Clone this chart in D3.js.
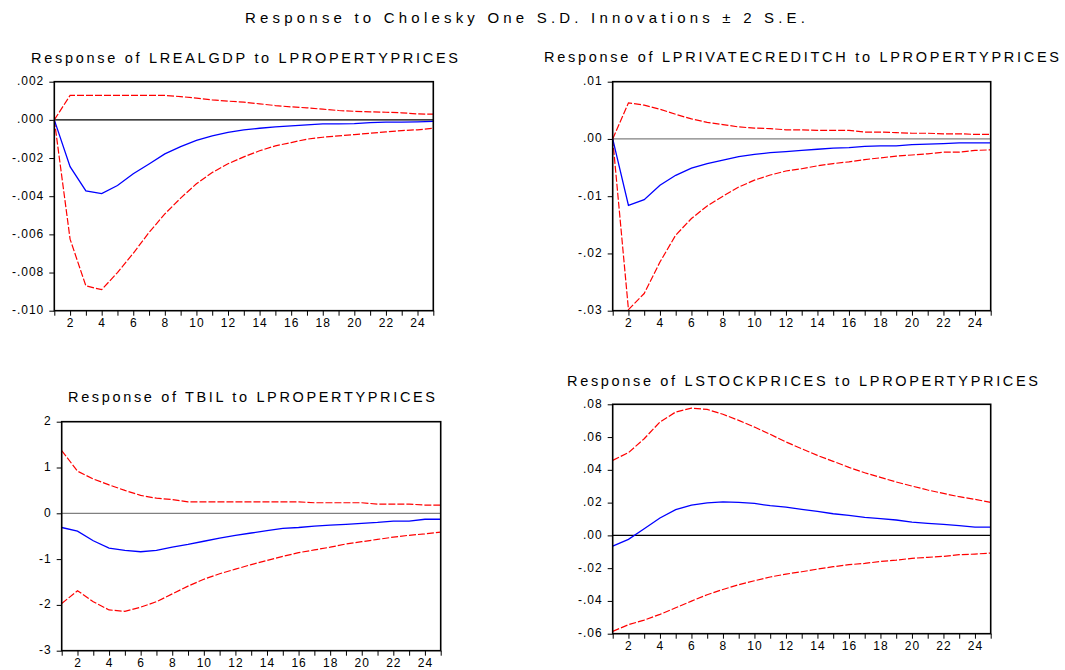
<!DOCTYPE html>
<meta charset="utf-8">
<html>
<head>
<title>Response to Cholesky One S.D. Innovations</title>
<script src="https://d3js.org/d3.v7.min.js"></script>
<style>
    body {
        margin: 0;
        background: #fff;
        font-family: Arial, "Liberation Sans", sans-serif;
    }
    .tick text {
        font-size: 12px;
        letter-spacing: 1px;
        fill: #000;
    }
    .tick line {
        stroke: #000;
    }
</style>
</head>
<body>
<svg id="chart"></svg>
<script>

var width = 1065
var height = 670

// horizon
var periods = [1, 2, 3, 4, 5, 6, 7, 8, 9, 10, 11, 12, 13, 14, 15, 16, 17, 18, 19, 20, 21, 22, 23, 24, 25]

// LREALGDP
var gdpResp  = [0, -0.00245, -0.00372, -0.00386, -0.00344, -0.00282, -0.00231, -0.00178, -0.00140, -0.00108, -0.00084, -0.00065, -0.00052, -0.00044, -0.00037, -0.00031, -0.00026, -0.00021, -0.00021, -0.00020, -0.00014, -0.00012, -0.00012, -0.00010, -0.00008]
var gdpUpper = [0, 0.00128, 0.00128, 0.00128, 0.00128, 0.00128, 0.00128, 0.00128, 0.00122, 0.00114, 0.00105, 0.00098, 0.00093, 0.00084, 0.00075, 0.00068, 0.00063, 0.00056, 0.00049, 0.00045, 0.00042, 0.00040, 0.00037, 0.00031, 0.00030]
var gdpLower = [0, -0.00625, -0.00870, -0.00890, -0.00800, -0.00699, -0.00590, -0.00493, -0.00410, -0.00335, -0.00276, -0.00230, -0.00194, -0.00162, -0.00136, -0.00119, -0.00101, -0.00091, -0.00084, -0.00077, -0.00070, -0.00063, -0.00056, -0.00052, -0.00044]
var gdpTicks = [0.002, 0, -0.002, -0.004, -0.006, -0.008, -0.010]
var gdpLabels = [".002", ".000", "-.002", "-.004", "-.006", "-.008", "-.010"]

// LPRIVATECREDITCH
var creditResp  = [0, -0.0116, -0.0106, -0.0081, -0.00635, -0.0051, -0.0043, -0.0037, -0.0031, -0.0027, -0.0024, -0.0022, -0.0020, -0.0018, -0.0016, -0.0015, -0.0013, -0.0012, -0.0012, -0.0010, -0.0009, -0.0008, -0.0007, -0.0007, -0.0007]
var creditUpper = [0, 0.0063, 0.0059, 0.0052, 0.0043, 0.0035, 0.0029, 0.0025, 0.0021, 0.0019, 0.0018, 0.0016, 0.0016, 0.0015, 0.0015, 0.0015, 0.0012, 0.0012, 0.0011, 0.0010, 0.0010, 0.0009, 0.0009, 0.0008, 0.0008]
var creditLower = [0, -0.0298, -0.0270, -0.0215, -0.0168, -0.0139, -0.0117, -0.0100, -0.0084, -0.0072, -0.0063, -0.0056, -0.0052, -0.0047, -0.0043, -0.0040, -0.0036, -0.0033, -0.0030, -0.0028, -0.0026, -0.0023, -0.0023, -0.0020, -0.0019]
var creditTicks = [0.01, 0, -0.01, -0.02, -0.03]
var creditLabels = [".01", ".00", "-.01", "-.02", "-.03"]

// TBIL
var tbilResp  = [-0.31, -0.39, -0.60, -0.76, -0.81, -0.84, -0.81, -0.74, -0.68, -0.61, -0.54, -0.48, -0.43, -0.38, -0.33, -0.31, -0.28, -0.26, -0.24, -0.22, -0.20, -0.17, -0.17, -0.13, -0.13]
var tbilUpper = [1.37, 0.92, 0.75, 0.62, 0.50, 0.39, 0.33, 0.30, 0.25, 0.25, 0.25, 0.25, 0.25, 0.25, 0.25, 0.25, 0.23, 0.23, 0.23, 0.23, 0.20, 0.20, 0.20, 0.18, 0.18]
var tbilLower = [-1.97, -1.69, -1.93, -2.11, -2.14, -2.05, -1.93, -1.76, -1.59, -1.44, -1.32, -1.22, -1.12, -1.03, -0.94, -0.86, -0.80, -0.74, -0.67, -0.62, -0.57, -0.52, -0.48, -0.45, -0.41]
var tbilTicks = [2, 1, 0, -1, -2, -3]
var tbilLabels = ["2", "1", "0", "-1", "-2", "-3"]

// LSTOCKPRICES
var stockResp  = [-0.0065, -0.0024, 0.0041, 0.0106, 0.0157, 0.0185, 0.0199, 0.0205, 0.0201, 0.0195, 0.0181, 0.0173, 0.0159, 0.0146, 0.0132, 0.0122, 0.0110, 0.0102, 0.0094, 0.0081, 0.0073, 0.0067, 0.0059, 0.0051, 0.0051]
var stockUpper = [0.0458, 0.0505, 0.0590, 0.0692, 0.0753, 0.0777, 0.0769, 0.0739, 0.0702, 0.0661, 0.0617, 0.0570, 0.0529, 0.0488, 0.0452, 0.0415, 0.0382, 0.0354, 0.0326, 0.0301, 0.0277, 0.0256, 0.0236, 0.0220, 0.0201]
var stockLower = [-0.0586, -0.0545, -0.0517, -0.0482, -0.0442, -0.0401, -0.0362, -0.0330, -0.0301, -0.0277, -0.0254, -0.0236, -0.0222, -0.0206, -0.0191, -0.0179, -0.0171, -0.0159, -0.0151, -0.0140, -0.0134, -0.0128, -0.0118, -0.0114, -0.0108]
var stockTicks = [0.08, 0.06, 0.04, 0.02, 0, -0.02, -0.04, -0.06]
var stockLabels = [".08", ".06", ".04", ".02", ".00", "-.02", "-.04", "-.06"]

var mainTitle = "Response to Cholesky One S.D. Innovations \u00b1 2 S.E."

// panel layout
var panels = [
    {title: "Response of LREALGDP to LPROPERTYPRICES", resp: gdpResp, upper: gdpUpper, lower: gdpLower,
     ticks: gdpTicks, labels: gdpLabels,
     box: [54.3, 81.7, 433.3, 310.7], tx: [31, 458], ty: 62.5, zero: "#000"},
    {title: "Response of LPRIVATECREDITCH to LPROPERTYPRICES", resp: creditResp, upper: creditUpper, lower: creditLower,
     ticks: creditTicks, labels: creditLabels,
     box: [612.7, 81.7, 990.7, 310.7], tx: [544, 1059], ty: 62, zero: "#808080"},
    {title: "Response of TBIL to LPROPERTYPRICES", resp: tbilResp, upper: tbilUpper, lower: tbilLower,
     ticks: tbilTicks, labels: tbilLabels,
     box: [61.7, 421.7, 440.7, 650.7], tx: [68, 435], ty: 402, zero: "#808080"},
    {title: "Response of LSTOCKPRICES to LPROPERTYPRICES", resp: stockResp, upper: stockUpper, lower: stockLower,
     ticks: stockTicks, labels: stockLabels,
     box: [612.7, 404.3, 990.7, 633.7], tx: [567, 1038], ty: 385.5, zero: "#000"}
]

var svg = d3.select("#chart")
    .attr("width", width)
    .attr("height", height)

svg.append("text")
    .attr("x", 245)
    .attr("y", 22.7)
    .attr("textLength", 805 - 245)
    .attr("lengthAdjust", "spacing")
    .attr("font-size", "15px")
    .text(mainTitle)

panels.forEach(function(p) {
    var left = p.box[0], top = p.box[1], right = p.box[2], bottom = p.box[3]

    var x = d3.scaleLinear()
        .domain([periods[0], periods[periods.length - 1]])
        .range([left, right])
    var y = d3.scaleLinear()
        .domain([d3.min(p.ticks), d3.max(p.ticks)])
        .range([bottom, top])

    var g = svg.append("g")

    // title
    g.append("text")
        .attr("x", p.tx[0])
        .attr("y", p.ty)
        .attr("textLength", p.tx[1] - p.tx[0])
        .attr("lengthAdjust", "spacing")
        .attr("font-size", "14.5px")
        .text(p.title)

    // axes
    var yAxis = d3.axisLeft(y)
        .tickValues(p.ticks)
        .tickFormat((d, i) => p.labels[i])
        .tickSize(5)
        .tickPadding(5)
    g.append("g")
        .attr("transform", "translate(" + left + ",0)")
        .call(yAxis)
        .call(a => a.select(".domain").remove())
        .selectAll("text").attr("dy", "0.25em")

    var xAxis = d3.axisBottom(x)
        .tickValues(periods)
        .tickFormat(d => d % 2 === 0 ? d : "")
        .tickSize(5)
        .tickPadding(3)
    g.append("g")
        .attr("transform", "translate(0," + bottom + ")")
        .call(xAxis)
        .call(a => a.select(".domain").remove())

    // zero line
    g.append("line")
        .attr("x1", left).attr("x2", right)
        .attr("y1", y(0)).attr("y2", y(0))
        .attr("stroke", p.zero)
        .attr("stroke-width", 1.2)

    var line = d3.line()
        .x((d, i) => x(periods[i]))
        .y(d => y(d))

    // error bands
    ;[p.upper, p.lower].forEach(function(band) {
        g.append("path")
            .datum(band)
            .attr("d", line)
            .attr("fill", "none")
            .attr("stroke", "#ff0000")
            .attr("stroke-width", 1.2)
            .attr("stroke-dasharray", "7,2")
    })

    // response
    g.append("path")
        .datum(p.resp)
        .attr("d", line)
        .attr("fill", "none")
        .attr("stroke", "#0000ff")
        .attr("stroke-width", 1.3)

    // frame
    g.append("rect")
        .attr("x", left)
        .attr("y", top)
        .attr("width", right - left)
        .attr("height", bottom - top)
        .attr("fill", "none")
        .attr("stroke", "#000")
        .attr("stroke-width", 1.6)
})
</script>
</body>
</html>
